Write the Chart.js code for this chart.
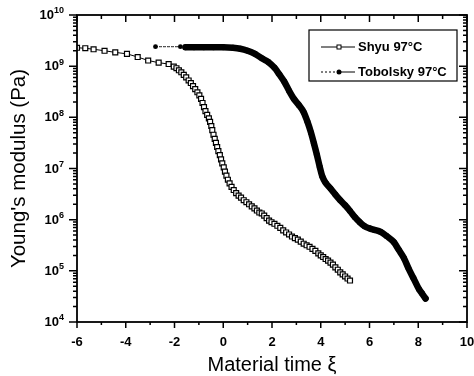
<!DOCTYPE html>
<html>
<head>
<meta charset="utf-8">
<script src="https://cdn.jsdelivr.net/npm/chart.js@4"></script>
<style>
  body { margin: 0; background: #fff; }
  #wrap { width: 474px; height: 376px; position: relative; }
</style>
</head>
<body>
<div id="wrap"><canvas id="chart"></canvas></div>
<script>
// values
const shyuLabel = 'Shyu 97°C';
const tobolskyLabel = 'Tobolsky 97°C';

const shyuTime = [
  -6.00, -5.66, -5.32, -4.87, -4.43, -3.95, -3.51, -3.08, -2.65, -2.24,
  -2.03, -1.92, -1.82, -1.72, -1.62, -1.52, -1.42, -1.33, -1.24, -1.15,
  -1.06, -0.98, -0.91, -0.85, -0.79, -0.73, -0.66, -0.59, -0.54, -0.49,
  -0.45, -0.40, -0.35, -0.30, -0.25, -0.20, -0.14, -0.09, -0.04, 0.02,
  0.07, 0.13, 0.19, 0.26, 0.34, 0.43, 0.53, 0.63, 0.73, 0.84,
  0.95, 1.06, 1.17, 1.28, 1.38, 1.48, 1.58, 1.68, 1.78, 1.88,
  1.98, 2.10, 2.22, 2.34, 2.46, 2.58, 2.70, 2.82, 2.94, 3.06,
  3.18, 3.30, 3.42, 3.54, 3.66, 3.78, 3.90, 4.00, 4.10, 4.20,
  4.30, 4.40, 4.50, 4.60, 4.70, 4.80, 4.90, 5.00, 5.10, 5.20
];
const shyuModulus = [
  2.29e9, 2.24e9, 2.14e9, 2.0e9, 1.86e9, 1.74e9, 1.51e9, 1.29e9, 1.17e9, 1.10e9,
  9.77e8, 9.12e8, 8.32e8, 7.59e8, 6.76e8, 6.03e8, 5.25e8, 4.68e8, 4.07e8, 3.55e8,
  3.09e8, 2.69e8, 2.29e8, 1.91e8, 1.58e8, 1.32e8, 1.12e8, 9.55e7, 8.13e7, 6.76e7,
  5.62e7, 4.57e7, 3.80e7, 3.16e7, 2.63e7, 2.19e7, 1.82e7, 1.51e7, 1.26e7, 1.05e7,
  8.71e6, 7.24e6, 6.03e6, 5.13e6, 4.37e6, 3.80e6, 3.31e6, 2.95e6, 2.69e6, 2.40e6,
  2.19e6, 2.00e6, 1.82e6, 1.66e6, 1.51e6, 1.38e6, 1.32e6, 1.20e6, 1.07e6, 9.55e5,
  8.91e5, 8.32e5, 7.59e5, 6.92e5, 6.17e5, 5.62e5, 5.13e5, 4.68e5, 4.37e5, 4.07e5,
  3.72e5, 3.39e5, 3.16e5, 2.95e5, 2.69e5, 2.45e5, 2.19e5, 2.00e5, 1.86e5, 1.70e5,
  1.58e5, 1.45e5, 1.32e5, 1.17e5, 1.05e5, 9.33e4, 8.51e4, 7.76e4, 7.08e4, 6.46e4
];

const tobolskyTime = [
  -2.78, -1.76, -1.55, -1.2, -0.8, -0.4, 0.0, 0.4, 0.7, 1.0,
  1.3, 1.6, 1.85, 2.1, 2.3, 2.5, 2.7, 2.9, 3.1, 3.3,
  3.45, 3.6, 3.72, 3.84, 3.96, 4.06, 4.2, 4.4, 4.6, 4.8,
  5.0, 5.2, 5.4, 5.6, 5.8, 6.0, 6.2, 6.46, 6.7, 7.0,
  7.2, 7.41, 7.6, 7.8, 8.03, 8.15, 8.30
];
const tobolskyModulus = [
  2.40e9, 2.40e9, 2.34e9, 2.34e9, 2.34e9, 2.34e9, 2.34e9, 2.29e9, 2.19e9, 2.0e9,
  1.74e9, 1.41e9, 1.20e9, 9.33e8, 6.92e8, 5.01e8, 3.31e8, 2.29e8, 1.74e8, 1.26e8,
  8.32e7, 5.01e7, 3.09e7, 1.86e7, 1.07e7, 7.08e6, 5.25e6, 4.07e6, 3.09e6, 2.40e6,
  1.91e6, 1.48e6, 1.12e6, 8.91e5, 7.41e5, 6.76e5, 6.31e5, 5.75e5, 4.79e5, 3.63e5,
  2.57e5, 1.78e5, 1.12e5, 7.24e4, 4.37e4, 3.63e4, 2.88e4
];

const yTickValues = [1e4, 1e5, 1e6, 1e7, 1e8, 1e9, 1e10];
const yTickExponents = ['4', '5', '6', '7', '8', '9', '10'];

const fontName = '"Liberation Sans", Arial, sans-serif';

// frame, inward/outward ticks, superscript y labels and the boxed legend
const framePlugin = {
  id: 'frame',
  afterDraw(chart) {
    const ctx = chart.ctx;
    const a = chart.chartArea;
    const xs = chart.scales.x;
    const ys = chart.scales.y;
    ctx.save();
    ctx.strokeStyle = '#000';
    ctx.lineWidth = 1.8;
    ctx.strokeRect(a.left, a.top, a.right - a.left, a.bottom - a.top);

    ctx.lineWidth = 1.5;
    ctx.beginPath();
    for (let v = -6; v <= 10; v++) {
      const px = xs.getPixelForValue(v);
      const major = v % 2 === 0;
      ctx.moveTo(px, a.bottom);
      ctx.lineTo(px, a.bottom + (major ? 6 : 3));
      ctx.moveTo(px, a.top);
      ctx.lineTo(px, a.top + (major ? 7 : 4));
    }
    for (let e = 4; e <= 10; e++) {
      for (let m = 1; m <= 9; m++) {
        if (e === 10 && m > 1) break;
        const py = ys.getPixelForValue(m * Math.pow(10, e));
        const len = m === 1 ? 8 : 4;
        ctx.moveTo(a.left - len, py);
        ctx.lineTo(a.left, py);
        ctx.moveTo(a.right - len, py);
        ctx.lineTo(a.right, py);
      }
    }
    ctx.stroke();

    // y tick labels as 10 with a raised exponent
    ctx.fillStyle = '#000';
    ctx.textAlign = 'right';
    ctx.textBaseline = 'middle';
    yTickValues.forEach((v, i) => {
      const py = ys.getPixelForValue(v);
      ctx.font = 'bold 9px ' + fontName;
      const w = ctx.measureText(yTickExponents[i]).width;
      ctx.fillText(yTickExponents[i], a.left - 13, py - 4);
      ctx.font = 'bold 13px ' + fontName;
      ctx.fillText('10', a.left - 13 - w, py + 0.5);
    });

    // legend box
    const bx = 309, by = 30, bw = 148, bh = 51;
    ctx.textAlign = 'left';
    ctx.lineWidth = 1.2;
    ctx.strokeRect(bx, by, bw, bh);
    const rows = [
      { label: shyuLabel, y: 47, dashed: false, open: true },
      { label: tobolskyLabel, y: 72, dashed: true, open: false }
    ];
    rows.forEach(r => {
      ctx.lineWidth = 1;
      ctx.setLineDash(r.dashed ? [2, 2] : []);
      ctx.beginPath();
      ctx.moveTo(321, r.y);
      ctx.lineTo(337, r.y);
      ctx.stroke();
      ctx.setLineDash([]);
      ctx.beginPath();
      ctx.moveTo(341, r.y);
      ctx.lineTo(355, r.y);
      ctx.stroke();
      if (r.open) {
        ctx.fillStyle = '#fff';
        ctx.fillRect(337, r.y - 2, 4, 4);
        ctx.strokeRect(337, r.y - 2, 4, 4);
      } else {
        ctx.fillStyle = '#000';
        ctx.beginPath();
        ctx.arc(339, r.y, 2.5, 0, Math.PI * 2);
        ctx.fill();
      }
      ctx.fillStyle = '#000';
      ctx.font = 'bold 13px ' + fontName;
      ctx.fillText(r.label, 358, r.y);
    });
    ctx.restore();
  }
};

const ctx = document.getElementById('chart').getContext('2d');
new Chart(ctx, {
  type: 'line',
  data: {
    datasets: [
      {
        label: shyuLabel,
        data: shyuTime.map((t, i) => ({ x: t, y: shyuModulus[i] })),
        borderColor: '#000',
        borderWidth: 1,
        pointStyle: 'rect',
        pointRadius: 3.5,
        pointBackgroundColor: '#fff',
        pointBorderColor: '#000',
        pointBorderWidth: 1.2
      },
      {
        label: tobolskyLabel,
        data: tobolskyTime.map((t, i) => ({ x: t, y: tobolskyModulus[i] })),
        borderColor: '#000',
        borderWidth: 6.5,
        borderCapStyle: 'round',
        borderJoinStyle: 'round',
        cubicInterpolationMode: 'monotone',
        segment: {
          borderWidth: c => c.p0DataIndex < 2 ? 1 : 6.5,
          borderDash: c => c.p0DataIndex < 2 ? [2, 2] : undefined
        },
        pointStyle: 'circle',
        pointRadius: c => c.dataIndex < 2 ? 2.4 : 3,
        pointBackgroundColor: '#000',
        pointBorderColor: '#000',
        pointBorderWidth: 0
      }
    ]
  },
  options: {
    responsive: true,
    maintainAspectRatio: false,
    animation: false,
    layout: { padding: { top: 15, right: 7, left: 0, bottom: 0 } },
    plugins: {
      legend: { display: false },
      tooltip: { enabled: false }
    },
    scales: {
      x: {
        type: 'linear',
        min: -6,
        max: 10,
        grid: { display: false, drawTicks: false },
        border: { display: false },
        ticks: {
          stepSize: 2,
          padding: 13,
          color: '#000',
          font: { family: fontName, size: 13, weight: 'bold' }
        },
        title: {
          display: true,
          text: 'Material time ξ',
          color: '#000',
          padding: { top: 0, bottom: -1 },
          font: { family: fontName, size: 20 }
        },
        afterFit: s => {
          s.height = 54;
          s.paddingLeft = 0;
          s.paddingRight = 0;
        }
      },
      y: {
        type: 'logarithmic',
        min: 1e4,
        max: 1e10,
        grid: { display: false, drawTicks: false },
        border: { display: false },
        afterBuildTicks: s => { s.ticks = yTickValues.map(v => ({ value: v })); },
        ticks: { display: false },
        title: {
          display: true,
          text: "Young's modulus (Pa)",
          color: '#000',
          padding: { top: 7, bottom: 0 },
          font: { family: fontName, size: 20.5 }
        },
        afterFit: s => {
          s.width = 77;
          s.paddingTop = 0;
          s.paddingBottom = 0;
        }
      }
    }
  },
  plugins: [framePlugin]
});
</script>
</body>
</html>
